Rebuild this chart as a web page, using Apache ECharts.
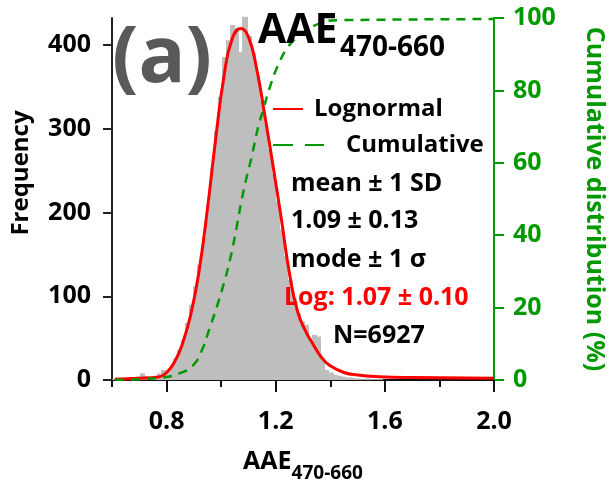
<!DOCTYPE html>
<html>
<head>
<meta charset="utf-8">
<script src="https://cdn.jsdelivr.net/npm/echarts@6/dist/echarts.min.js"></script>
<style>
  html, body { margin: 0; padding: 0; background: #fff; }
  #chart { width: 612px; height: 486px; }
</style>
</head>
<body>
<div id="chart"></div>
<script>
// histogram bins (centres) and counts, bin width 0.015
var binCenters = [
  0.6075, 0.6225, 0.6375, 0.6525, 0.6675, 0.6825, 0.6975, 0.7125, 0.7275,
  0.7425, 0.7575, 0.7725, 0.7875, 0.8025, 0.8175, 0.8325, 0.8475, 0.8625, 0.8775,
  0.8925, 0.9075, 0.9225, 0.9375, 0.9525, 0.9675, 0.9825, 0.9975, 1.0125, 1.0275,
  1.0425, 1.0575, 1.0725, 1.0875, 1.1025, 1.1175, 1.1325, 1.1475, 1.1625, 1.1775,
  1.1925, 1.2075, 1.2225, 1.2375, 1.2525, 1.2675, 1.2825, 1.2975, 1.3125, 1.3275,
  1.3425, 1.3575, 1.3725, 1.3875, 1.4025, 1.4175, 1.4325, 1.4475, 1.4625, 1.4775,
  1.4925, 1.5075, 1.5225, 1.5375, 1.5525, 1.5675, 1.5825
];
var binCounts = [
  1, 1, 2, 1, 3, 2, 4, 8, 5,
  3, 5, 8, 12, 10, 16, 25, 36, 48, 68,
  90, 112, 138, 170, 210, 254, 298, 338, 386, 406,
  424, 421, 392, 434, 411, 390, 364, 334, 306, 276,
  246, 214, 180, 148, 120, 98, 80, 70, 66, 50,
  54, 52, 24, 12, 9, 6, 5, 4, 3, 3,
  2, 2, 1, 2, 1, 1, 1
];
var binWidth = 0.015;

// lognormal fit curve
var logX = [0.61, 0.70, 0.77, 0.80, 0.83, 0.86, 0.89, 0.92, 0.95, 0.98, 1.01, 1.04, 1.072,
  1.10, 1.13, 1.16, 1.19, 1.22, 1.25, 1.28, 1.31, 1.34, 1.37, 1.40, 1.45, 1.50, 1.58, 1.70, 2.0];
var logY = [1, 2, 3.5, 9, 22, 45, 80, 132, 205, 288, 362, 407, 420,
  410, 372, 316, 256, 194, 128, 82, 58, 41, 26, 17, 9, 6, 4, 3, 2.2];

// cumulative distribution (%)
var cumX = [0.612, 0.776, 0.849, 0.898, 0.935, 0.953, 0.984, 1.008, 1.032, 1.057, 1.075, 1.094,
  1.112, 1.136, 1.154, 1.179, 1.209, 1.246, 1.283, 1.362, 1.435, 2.0];
var cumY = [0, 0.6, 1.9, 4.1, 9.2, 13.2, 20.2, 26.2, 33.1, 42.3, 49.7, 56.2,
  61.7, 70.0, 74.6, 81.0, 87.0, 92.1, 94.8, 98.5, 99.4, 99.7];

var freqTicks = [0, 100, 200, 300, 400];
var xTicks = [0.6, 0.8, 1.0, 1.2, 1.4, 1.6, 1.8, 2.0];
var xLabels = [0.8, 1.2, 1.6, 2.0];

var FONT = '"Open Sans", "DejaVu Sans", sans-serif';
var GREEN = '#009a00';
var RED = '#ff0000';

var chart = echarts.init(document.getElementById('chart'), null, { renderer: 'canvas' });

var histData = binCenters.map(function (c, i) { return [c, binCounts[i]]; });

var option = {
  animation: false,
  backgroundColor: '#fff',
  textStyle: { fontFamily: FONT, fontWeight: 'bold' },
  grid: { left: 112, right: 118, top: 18, bottom: 106, containLabel: false, outerBoundsMode: 'none' },
  legend: [
    {
      data: ['Lognormal'],
      left: 267, top: 92,
      itemWidth: 30, itemHeight: 14,
      itemStyle: { opacity: 0 },
      textStyle: { fontFamily: FONT, fontWeight: 'bold', fontSize: 24, color: '#000', padding: [0, 0, 0, 6] }
    },
    {
      data: ['Cumulative'],
      left: 267, top: 128,
      itemWidth: 51, itemHeight: 14,
      itemStyle: { opacity: 0 },
      lineStyle: { type: [20, 12] },
      textStyle: { fontFamily: FONT, fontWeight: 'bold', fontSize: 24, color: '#000', padding: [0, 0, 0, 17] }
    }
  ],
  xAxis: [
    {
      type: 'value', min: 0.6, max: 2.0, interval: 0.2,
      position: 'bottom', offset: 5,
      name: '{a|AAE}{b|470-660}',
      nameLocation: 'middle', nameGap: 64,
      nameTextStyle: {
        rich: {
          a: { fontFamily: FONT, fontWeight: 'bold', fontSize: 25, color: '#000', verticalAlign: 'bottom', padding: [0, 0, 9, 0] },
          b: { fontFamily: FONT, fontWeight: 'bold', fontSize: 19, color: '#000', verticalAlign: 'bottom' }
        }
      },
      splitLine: { show: false },
      axisLine: { lineStyle: { color: '#111', width: 2 } },
      axisTick: { customValues: xTicks, length: 7, lineStyle: { color: '#111', width: 2 } },
      axisLabel: {
        customValues: xLabels, margin: 24,
        fontFamily: FONT, fontWeight: 'bold', fontSize: 25, color: '#000',
        formatter: function (v) { return v.toFixed(1); }
      }
    },
    {
      // long ticks under the labelled values
      type: 'value', min: 0.6, max: 2.0, interval: 0.2,
      position: 'bottom', offset: 5,
      splitLine: { show: false },
      axisLine: { show: false },
      axisLabel: { show: false },
      axisTick: { customValues: xLabels, length: 12, lineStyle: { color: '#111', width: 2 } }
    }
  ],
  yAxis: [
    {
      type: 'value', min: 0, max: 432.5, interval: 100,
      name: 'Frequency', nameLocation: 'middle', nameGap: 79, nameRotate: 90,
      nameTextStyle: { fontFamily: FONT, fontWeight: 'bold', fontSize: 24, color: '#000', padding: [0, 0, 0, 52] },
      splitLine: { show: false },
      axisLine: { show: true, lineStyle: { color: '#222', width: 2 } },
      axisTick: { show: true, customValues: freqTicks, length: 9, lineStyle: { color: '#222', width: 2 } },
      axisLabel: { customValues: freqTicks, margin: 21, fontFamily: FONT, fontWeight: 'bold', fontSize: 25, color: '#000' }
    },
    {
      type: 'value', min: 0, max: 100, interval: 20, position: 'right',
      name: 'Cumulative distribution (%)', nameLocation: 'middle', nameGap: 88, nameRotate: -90,
      nameTextStyle: { fontFamily: FONT, fontWeight: 'bold', fontSize: 25, color: GREEN },
      splitLine: { show: false },
      axisLine: { show: true, lineStyle: { color: GREEN, width: 2 } },
      axisTick: { show: true, length: 10, lineStyle: { color: GREEN, width: 2 } },
      axisLabel: { margin: 19, fontFamily: FONT, fontWeight: 'bold', fontSize: 25, color: GREEN }
    }
  ],
  graphic: [
    { type: 'text', z: 100, x: 112, y: 60, style: { text: '(a)', fill: '#595959', font: 'bold 78px ' + FONT, verticalAlign: 'middle' } },
    { type: 'text', z: 100, x: 258, y: 31, style: { text: 'AAE', fill: '#000', font: 'bold 41px ' + FONT, verticalAlign: 'middle' } },
    { type: 'text', z: 100, x: 340, y: 48, style: { text: '470-660', fill: '#000', font: 'bold 28px ' + FONT, verticalAlign: 'middle' } },
    { type: 'text', z: 100, x: 291, y: 184, style: { text: 'mean ± 1 SD', fill: '#000', font: 'bold 25px ' + FONT, verticalAlign: 'middle' } },
    { type: 'text', z: 100, x: 291, y: 221, style: { text: '1.09 ± 0.13', fill: '#000', font: 'bold 25px ' + FONT, verticalAlign: 'middle' } },
    { type: 'text', z: 100, x: 291, y: 260, style: { text: 'mode ± 1 σ', fill: '#000', font: 'bold 25px ' + FONT, verticalAlign: 'middle' } },
    { type: 'text', z: 100, x: 284, y: 298, style: { text: 'Log: 1.07 ± 0.10', fill: RED, font: 'bold 25px ' + FONT, verticalAlign: 'middle' } },
    { type: 'text', z: 100, x: 333, y: 336, style: { text: 'N=6927', fill: '#000', font: 'bold 25px ' + FONT, verticalAlign: 'middle' } }
  ],
  series: [
    {
      name: 'Histogram',
      type: 'custom',
      xAxisIndex: 0, yAxisIndex: 0,
      data: histData,
      encode: { x: 0, y: 1 },
      renderItem: function (params, api) {
        var c = api.value(0);
        var n = api.value(1);
        var p0 = api.coord([c - binWidth / 2, n]);
        var p1 = api.coord([c + binWidth / 2, 0]);
        var x0 = Math.floor(p0[0]);
        var x1 = Math.ceil(p1[0]);
        return {
          type: 'rect',
          shape: { x: x0, y: p0[1], width: x1 - x0, height: p1[1] - p0[1] },
          style: { fill: '#bebebe', stroke: null }
        };
      },
      z: 1
    },
    {
      name: 'Lognormal',
      type: 'line',
      xAxisIndex: 0, yAxisIndex: 0,
      data: logX.map(function (x, i) { return [x, logY[i]]; }),
      smooth: 0.5,
      symbol: 'none',
      lineStyle: { color: RED, width: 3 },
      itemStyle: { color: RED },
      z: 3
    },
    {
      name: 'Cumulative',
      type: 'line',
      xAxisIndex: 0, yAxisIndex: 1,
      data: cumX.map(function (x, i) { return [x, cumY[i]]; }),
      smooth: 0.5,
      symbol: 'none',
      lineStyle: { color: GREEN, width: 2.5, type: [9, 7] },
      itemStyle: { color: GREEN },
      z: 4
    }
  ]
};

chart.setOption(option);
</script>
</body>
</html>
